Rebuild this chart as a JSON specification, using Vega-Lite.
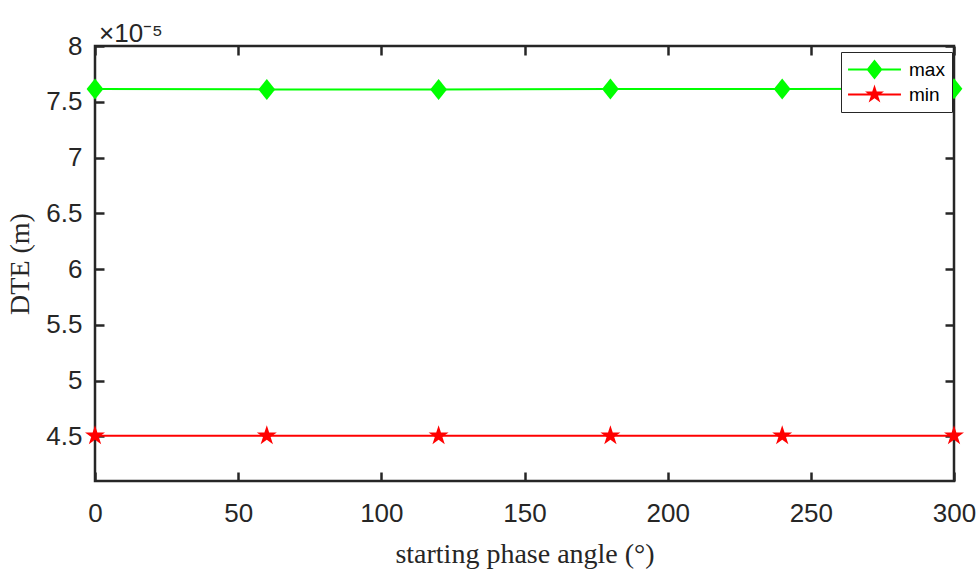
{
  "$schema": "https://vega.github.io/schema/vega-lite/v6.json",
  "width": 859,
  "height": 435,
  "autosize": {"type": "none"},
  "padding": {"left": 95, "top": 46, "right": 25, "bottom": 89},
  "background": "white",
  "config": {
    "view": {"stroke": "#262626", "strokeWidth": 2.5},
    "axis": {
      "grid": false,
      "domain": false,
      "ticks": true,
      "tickColor": "#262626",
      "tickWidth": 2.5,
      "tickSize": 9,
      "offset": -9,
      "labelFlush": false,
      "labelFont": "Liberation Sans",
      "labelFontSize": 26,
      "labelColor": "#262626",
      "titleFont": "Liberation Serif",
      "titleFontSize": 28,
      "titleFontWeight": "normal",
      "titleColor": "#262626"
    },
    "title": {
      "font": "Liberation Sans",
      "fontSize": 26,
      "fontWeight": "normal",
      "color": "#262626",
      "anchor": "start",
      "frame": "group",
      "baseline": "alphabetic",
      "offset": -14,
      "dx": 4
    }
  },
  "title": "×10⁻⁵",
  "data": {
    "values": [
      {"angle": 0, "series": "max", "dte": 7.614e-5},
      {"angle": 60, "series": "max", "dte": 7.611e-5},
      {"angle": 120, "series": "max", "dte": 7.610e-5},
      {"angle": 180, "series": "max", "dte": 7.614e-5},
      {"angle": 240, "series": "max", "dte": 7.615e-5},
      {"angle": 300, "series": "max", "dte": 7.616e-5},
      {"angle": 0, "series": "min", "dte": 4.506e-5},
      {"angle": 60, "series": "min", "dte": 4.506e-5},
      {"angle": 120, "series": "min", "dte": 4.506e-5},
      {"angle": 180, "series": "min", "dte": 4.506e-5},
      {"angle": 240, "series": "min", "dte": 4.506e-5},
      {"angle": 300, "series": "min", "dte": 4.506e-5}
    ]
  },
  "encoding": {
    "x": {"field": "angle", "type": "quantitative", "scale": {"domain": [0, 300], "nice": false, "zero": false}, "axis": null},
    "y": {"field": "dte", "type": "quantitative", "scale": {"domain": [4.1e-5, 8e-5], "nice": false, "zero": false}, "axis": null},
    "color": {
      "field": "series",
      "type": "nominal",
      "scale": {"domain": ["max", "min"], "range": ["#00ff00", "#ff0000"]},
      "legend": {
        "title": null,
        "orient": "none",
        "legendX": 746,
        "legendY": 6,
        "fillColor": "white",
        "strokeColor": "#262626",
        "padding": 7,
        "rowPadding": 4,
        "symbolSize": 441,
        "symbolOffset": 16,
        "symbolOpacity": 1,
        "symbolStrokeWidth": 0,
        "labelOffset": 24,
        "labelFont": "Liberation Sans",
        "labelFontSize": 19,
        "labelColor": "#000000"
      }
    }
  },
  "layer": [
    {
      "mark": {"type": "line", "strokeWidth": 2, "clip": false},
      "encoding": {
        "x": {"field": "angle", "type": "quantitative", "scale": {"domain": [0, 300], "nice": false, "zero": false}, "axis": {"orient": "bottom", "title": "starting phase angle (°)", "values": [0, 50, 100, 150, 200, 250, 300], "labelPadding": 19, "titlePadding": 14}},
        "y": {"field": "dte", "type": "quantitative", "scale": {"domain": [4.1e-5, 8e-5], "nice": false, "zero": false}, "axis": {"orient": "left", "title": "DTE (m)", "values": [4.5e-5, 5e-5, 5.5e-5, 6e-5, 6.5e-5, 7e-5, 7.5e-5, 8e-5], "labelExpr": "format(datum.value*100000, '.1~f')", "labelPadding": 13, "titlePadding": 11}}
      }
    },
    {
      "transform": [{"filter": "datum.series === 'max'"}],
      "mark": {"type": "point", "filled": true, "size": 441, "opacity": 1, "strokeWidth": 0, "clip": false, "shape": "M0,-1L0.8,0L0,1L-0.8,0Z"},
      "encoding": {
        "x": {"field": "angle", "type": "quantitative", "scale": {"domain": [0, 300], "nice": false, "zero": false}, "axis": {"orient": "top", "title": null, "labels": false, "values": [0, 50, 100, 150, 200, 250, 300]}},
        "y": {"field": "dte", "type": "quantitative", "scale": {"domain": [4.1e-5, 8e-5], "nice": false, "zero": false}, "axis": {"orient": "right", "title": null, "labels": false, "values": [4.5e-5, 5e-5, 5.5e-5, 6e-5, 6.5e-5, 7e-5, 7.5e-5, 8e-5]}}
      }
    },
    {
      "transform": [{"filter": "datum.series === 'min'"}],
      "mark": {"type": "point", "filled": true, "size": 441, "opacity": 1, "strokeWidth": 0, "clip": false, "shape": "M0,-1L0.225,-0.309L0.951,-0.309L0.363,0.118L0.588,0.809L0,0.382L-0.588,0.809L-0.363,0.118L-0.951,-0.309L-0.225,-0.309Z"}
    },
    {
      "mark": {"type": "point", "filled": true, "size": 441, "opacity": 0, "strokeWidth": 0, "clip": false},
      "encoding": {
        "shape": {
          "field": "series",
          "type": "nominal",
          "scale": {"domain": ["max", "min"], "range": ["M-2.52,-0.1H2.52V0.1H-2.52ZM0,-0.95L0.76,0L0,0.95L-0.76,0Z", "M-2.52,-0.1H2.52V0.1H-2.52ZM0,-0.95L0.214,-0.294L0.903,-0.294L0.345,0.112L0.559,0.769L0,0.363L-0.559,0.769L-0.345,0.112L-0.903,-0.294L-0.214,-0.294Z"]},
          "legend": {
            "title": null,
            "orient": "none",
            "legendX": 746,
            "legendY": 6,
            "fillColor": "white",
            "strokeColor": "#262626",
            "padding": 7,
            "rowPadding": 4,
            "symbolSize": 441,
            "symbolOffset": 16,
            "symbolOpacity": 1,
            "symbolStrokeWidth": 0,
            "labelOffset": 24,
            "labelFont": "Liberation Sans",
            "labelFontSize": 19,
            "labelColor": "#000000"
          }
        }
      }
    }
  ]
}
